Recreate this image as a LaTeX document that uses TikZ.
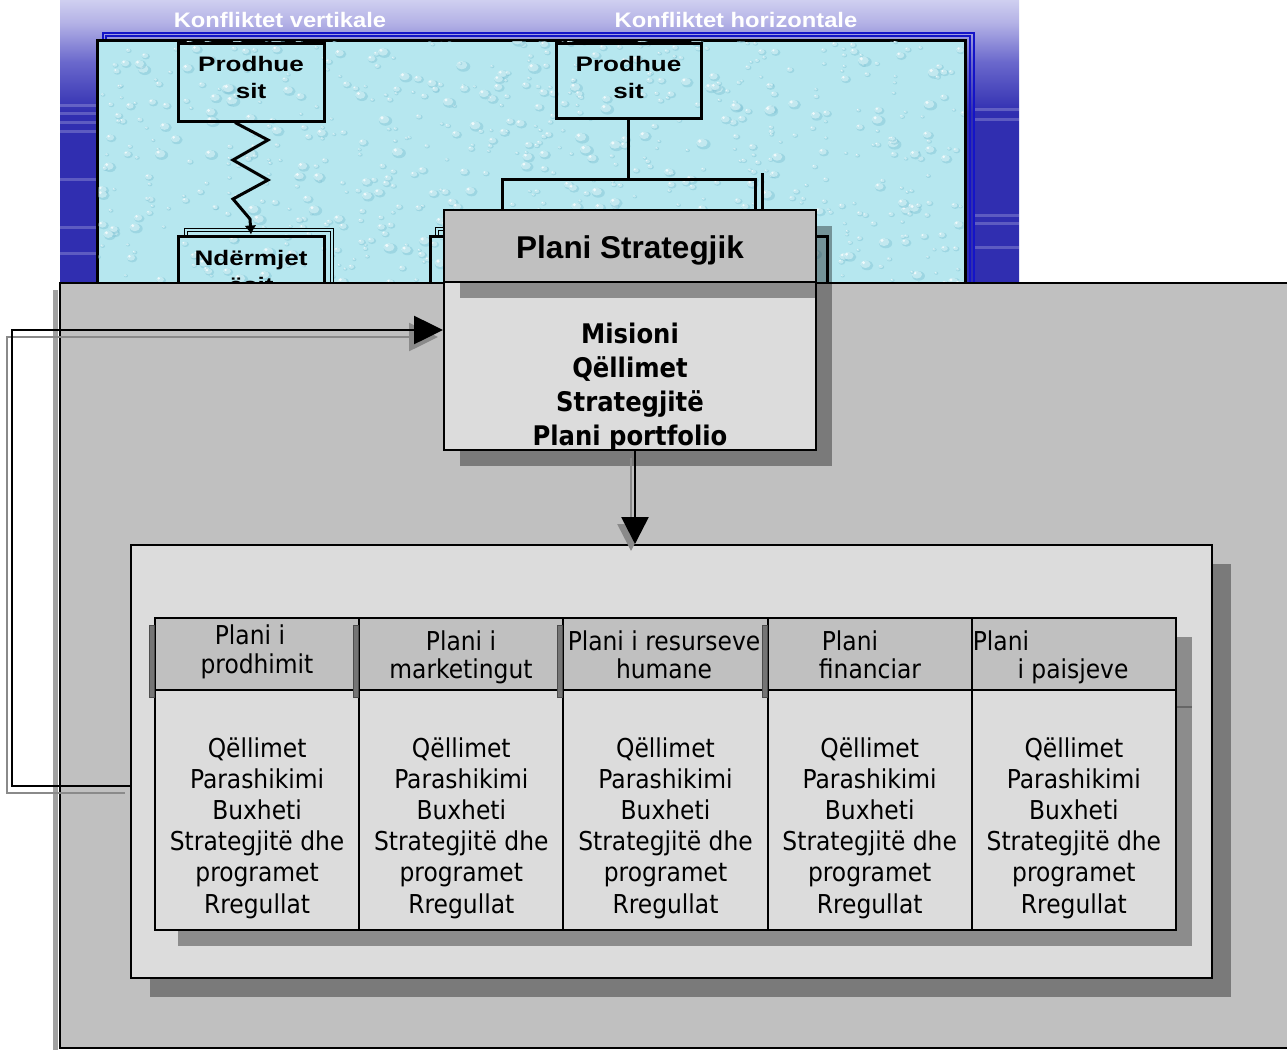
\documentclass[tikz,border=0pt]{standalone}
\usepackage{fontspec}
\usepackage{graphicx}
\setmainfont{Liberation Sans}
\newfontfamily\tah{DejaVuSansCondensed}[Extension=.ttf,BoldFont=*-Bold]
\usetikzlibrary{arrows.meta}

\definecolor{panelgray}{HTML}{C0C0C0}
\definecolor{lightfill}{HTML}{DCDCDC}
\definecolor{aqua}{HTML}{B6E7EF}
\definecolor{dropc}{HTML}{7FC2D4}
\definecolor{frameblue}{HTML}{1414C8}
\definecolor{bgA}{HTML}{CFCFF0}
\definecolor{bgB}{HTML}{B4B2E6}
\definecolor{bgC}{HTML}{6A68CC}
\definecolor{bgD}{HTML}{302EB0}
\definecolor{shadowgray}{HTML}{8A8A8A}

% the path box spans 25bp (bottom) to 75bp (top) of the shading
\pgfdeclareverticalshading{slidebg}{100bp}{color(0bp)=(bgD); color(55bp)=(bgD); color(64bp)=(bgC); color(71bp)=(bgB); color(75bp)=(bgA); color(100bp)=(bgA)}

\newcommand\titlewide[1]{\scalebox{1.13}[1]{#1}}
\newcommand\boxwide[1]{\scalebox{1.24}[1]{#1}}

\begin{document}
\begin{tikzpicture}[x=1pt,y=-1pt,
  shadebox/.style={fill=black, fill opacity=0.36, draw=none},
  upbox/.style={draw=black, line width=3pt, inner sep=0pt},
  uptext/.style={font=\bfseries\fontsize{21}{27}\selectfont, anchor=base, inner sep=0pt},
  slidetitle/.style={font=\bfseries\fontsize{21}{25}\selectfont, text=white, anchor=base, inner sep=0pt},
  conn/.style={line width=3pt, black},
  outline2/.style={draw=black, line width=0.8pt, double=aqua, double distance=1.6pt},
  plainbox/.style={draw=black, line width=2pt, inner sep=0pt},
  pstext/.style={font=\tah\bfseries\fontsize{27}{34}\selectfont, anchor=base, inner sep=0pt},
  celltext/.style={font=\tah\fontsize{26}{31}\selectfont, anchor=base, inner sep=0pt},
  flow/.style={line width=2.6pt, black},
  flowshade/.style={line width=2.6pt, shadowgray},
]
\useasboundingbox (0,0) rectangle (1287,1050);
\fill[white] (0,0) rectangle (1287,1050);

% ---------- slide in the upper part ----------
\shade[shading=slidebg] (60,0) rectangle (1019,283);
\foreach \yy in {104,112,121,130,178,226,252}
  \fill[white, opacity=0.22] (60,\yy) rectangle (97,\yy+2.5);
\foreach \yy in {108,118,214,222,246}
  \fill[white, opacity=0.22] (975,\yy) rectangle (1019,\yy+2.5);

\node[slidetitle] (tv) at (280,27) {\titlewide{Konfliktet vertikale}};
\node[slidetitle] (th) at (736,27) {\titlewide{Konfliktet horizontale}};

% blue double frame behind the water panel
\draw[frameblue, line width=1.2pt] (103,33) rectangle (974,300);
\draw[frameblue, line width=1.2pt] (106,36) rectangle (970,300);

% water panel with drops
\draw[line width=3pt, fill=aqua] (97,40) rectangle (965,300);
\begin{scope}
  \clip (98.5,41.5) rectangle (963.5,300);
  \pgfmathsetseed{11}
  \foreach \k in {1,...,750}{
    \pgfmathsetmacro{\px}{97+870*rnd}
    \pgfmathsetmacro{\py}{38+250*rnd}
    \pgfmathsetmacro{\pr}{2+5*rnd^2}
    \fill[dropc, opacity=0.45] (\px+0.25*\pr,\py+0.2*\pr) ellipse ({\pr} and {0.75*\pr});
    \fill[aqua!60!white, opacity=0.7] (\px,\py) ellipse ({0.8*\pr} and {0.6*\pr});
    \fill[white, opacity=0.75] (\px-0.3*\pr,\py-0.25*\pr) circle (0.25*\pr);
  }
\end{scope}

% producers
\node[upbox, minimum width=146pt, minimum height=78pt] (prodL) at (251,82) {};
\node[uptext] (prodLa) at (251,71) {\boxwide{Prodhue}};
\node[uptext] (prodLb) at (251,98) {\boxwide{sit}};
\node[upbox, minimum width=145pt, minimum height=75pt] (prodR) at (628.5,80.5) {};
\node[uptext] (prodRa) at (628.5,71) {\boxwide{Prodhue}};
\node[uptext] (prodRb) at (628.5,98) {\boxwide{sit}};

% intermediaries (vertical side)
\draw[outline2] (186,236) -- (186,230) -- (332,230) -- (332,300);
\node[upbox, minimum width=146pt, minimum height=70pt] (ndL) at (251,271) {};
\node[uptext] (ndLa) at (251,265) {\boxwide{Ndërmjet}};
\node[uptext] (ndLb) at (251,292) {\boxwide{ësit}};

% intermediaries (horizontal side)
\draw[outline2] (437,236) -- (437,229) -- (450,229);
\node[upbox, minimum width=397pt, minimum height=70pt] (ndR) at (628.5,271) {};

% conflict links
\draw[conn, line join=miter, -{Latex[length=9pt,width=12pt]}]
  ([xshift=-16pt]prodL.south) -- (268,140) -- (233,160) -- (268,180) -- (233,199) -- (250,219) -- (ndL.north);
\coordinate (brL) at (502,215);
\coordinate (brM) at (628.5,179);
\coordinate (brR) at (755,215);
\coordinate (auxT) at (762,173);
\coordinate (auxB) at (762,215);
\draw[conn] (prodR.south) -- (brM);
\draw[conn] (brL) |- (brM) -| (brR);
\draw[conn] (auxT) -- (auxB);

% ---------- grey slide ----------
\fill[shadowgray!80!white] (53,290) rectangle (58,1050);
\draw[line width=2pt, fill=panelgray] (60,283) rectangle (1300,1048);

% strategic plan
\fill[shadebox] (460,298) rectangle (832,466);
\node[plainbox, fill=lightfill, minimum width=372pt, minimum height=168pt] (psB) at (630,366) {};
\fill[shadebox] (460,226) rectangle (832,298);
\node[plainbox, fill=panelgray, minimum width=372pt, minimum height=72pt] (psH) at (630,246) {};
\node[font=\bfseries\fontsize{31.5}{36}\selectfont, anchor=base, inner sep=0pt] (psHt) at (630,258) {Plani Strategjik};
\node[pstext] (ps1) at (630,343) {Misioni};
\node[pstext] (ps2) at (630,377) {Qëllimet};
\node[pstext] (ps3) at (630,411) {Strategjitë};
\node[pstext] (ps4) at (630,445) {Plani portfolio};

% functional plans
\fill[shadebox] (150,564) rectangle (1231,997);
\node[plainbox, fill=lightfill, minimum width=1081pt, minimum height=433pt] (inner) at (671.5,761.5) {};

\fill[shadebox] (178,637) rectangle (1192,946);
\draw[black!60, line width=1.5pt] (1177,707) -- (1192,707);
\foreach \xx in {378,580,783,988}
  \draw[black!45, line width=1.5pt] (\xx,931) -- (\xx,946);

\foreach \i in {1,...,5}{
  \pgfmathsetmacro{\cx}{155+204.2*(\i-0.5)}
  \node[plainbox, fill=panelgray, minimum width=204.2pt, minimum height=72pt] (h\i) at (\cx,654) {};
  \node[plainbox, fill=lightfill, minimum width=204.2pt, minimum height=240pt] (b\i) at (\cx,810) {};
  \foreach \t [count=\j] in {Qëllimet,Parashikimi,Buxheti,Strategjitë dhe,programet,Rregullat}
    \node[celltext] (b\i-\j) at (\cx,{757+31.2*(\j-1)}) {\t};
}
\foreach \xx in {149.5,353,557.5,762}
  \draw[black!70, line width=0.6pt, fill=shadowgray!85!black] (\xx,625) rectangle (\xx+5,697);

\node[celltext] (h1a) at (250,644) {Plani i};
\node[celltext] (h1b) at (257,673) {prodhimit};
\node[celltext] (h2a) at (461,650) {Plani i};
\node[celltext] (h2b) at (461,678) {marketingut};
\node[celltext] (h3a) at (664,650) {Plani i resurseve};
\node[celltext] (h3b) at (664,678) {humane};
\node[celltext] (h4a) at (850,650) {Plani};
\node[celltext] (h4b) at (870,678) {financiar};
\node[celltext] (h5a) at (1001,650) {Plani};
\node[celltext] (h5b) at (1073,678) {i paisjeve};

% feedback loop from the functional plans back to the strategic plan
\coordinate (loopx) at (12,560);
\draw[flowshade, -{Triangle[length=29pt,width=28pt]}, transform canvas={xshift=-5pt,yshift=-7pt}]
  ([yshift=-24.5pt]inner.west) -| (loopx) |- ([yshift=36pt]psB.west);
\draw[flow, -{Triangle[length=29pt,width=28pt]}]
  ([yshift=-24.5pt]inner.west) -| (loopx) |- ([yshift=36pt]psB.west);

% strategic plan feeds the functional plans
\draw[flowshade, -{Triangle[length=27pt,width=27pt]}, transform canvas={xshift=-4pt,yshift=-7pt}]
  ([xshift=5pt]psB.south) -- ([xshift=5pt]psB.south |- inner.north);
\draw[flow, -{Triangle[length=27pt,width=27pt]}]
  ([xshift=5pt]psB.south) -- ([xshift=5pt]psB.south |- inner.north);
\end{tikzpicture}
\end{document}
